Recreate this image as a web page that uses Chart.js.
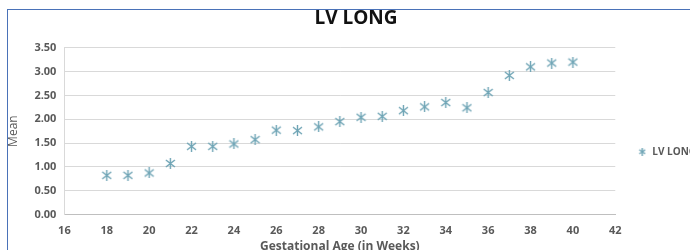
<!DOCTYPE html>
<html>
<head>
<meta charset="utf-8">
<script src="https://cdn.jsdelivr.net/npm/chart.js@4"></script>
<style>
  html, body { margin: 0; padding: 0; background: #fff; overflow: hidden; }
  #wrap { position: absolute; left: 0; top: 0; width: 706px; height: 250px; }
  #frame { position: absolute; left: 7px; top: 9px; width: 700px; height: 260px;
           border-left: 1px solid #4a72b8; border-top: 1px solid #4a72b8; pointer-events: none; }
</style>
</head>
<body>
<div id="wrap"><canvas id="chart" width="706" height="250"></canvas></div>
<div id="frame"></div>
<script>
var weeks = [18, 19, 20, 21, 22, 23, 24, 25, 26, 27, 28, 29, 30, 31, 32, 33, 34, 35, 36, 37, 38, 39, 40];
var lvLong = [0.82, 0.82, 0.87, 1.07, 1.43, 1.43, 1.48, 1.57, 1.77, 1.76, 1.84, 1.95, 2.04, 2.06, 2.18, 2.26, 2.35, 2.24, 2.56, 2.92, 3.10, 3.18, 3.20];
var seriesName = 'LV LONG';
var markerColor = '#6ea4b5';

// asterisk marker like excel's "star"
function makeStar(size) {
    var c = document.createElement('canvas');
    c.width = size; c.height = size;
    var g = c.getContext('2d');
    g.strokeStyle = markerColor;
    g.lineWidth = 1.4;
    var m = 1, s = size - 1;
    g.beginPath();
    g.moveTo(m, m + 1); g.lineTo(s, s - 1);
    g.moveTo(s, m + 1); g.lineTo(m, s - 1);
    g.moveTo(size / 2, 0); g.lineTo(size / 2, size);
    g.stroke();
    return c;
}
var star = makeStar(11);
var starSmall = makeStar(8);

var points = weeks.map(function (w, i) { return { x: w, y: lvLong[i] }; });

var ctx = document.getElementById('chart').getContext('2d');
new Chart(ctx, {
    type: 'scatter',
    data: {
        datasets: [{
            label: seriesName,
            data: points,
            pointStyle: star,
            borderColor: markerColor,
            backgroundColor: markerColor
        }]
    },
    options: {
        responsive: false,
        animation: false,
        layout: { padding: { left: 6, top: 7, right: 0, bottom: -4 } },
        plugins: {
            title: {
                display: true,
                text: 'LV LONG',
                color: '#111',
                font: { family: 'Open Sans', size: 19, weight: 'bold' },
                padding: { top: 0, bottom: 18 }
            },
            legend: {
                position: 'right',
                title: { display: true, text: ' ', padding: 14, font: { size: 12 } },
                labels: {
                    usePointStyle: true,
                    pointStyle: starSmall,
                    color: '#595959',
                    font: { family: 'Open Sans', size: 10, weight: 'bold' },
                    padding: 6,
                    generateLabels: function (chart) {
                        return [{ text: seriesName, pointStyle: starSmall, fontColor: '#595959',
                                  strokeStyle: markerColor, fillStyle: markerColor, datasetIndex: 0 }];
                    }
                }
            },
            tooltip: { enabled: false }
        },
        scales: {
            x: {
                type: 'linear',
                min: 16,
                max: 42,
                ticks: { stepSize: 2, color: '#595959', font: { family: 'Open Sans', size: 11, weight: 'bold' }, padding: 10 },
                grid: { display: false, drawTicks: false },
                border: { color: '#bfbfbf' },
                title: {
                    display: true,
                    text: 'Gestational Age (in Weeks)',
                    color: '#595959',
                    font: { family: 'Open Sans', size: 12, weight: 'bold' },
                    padding: { top: -8, bottom: 0 }
                }
            },
            y: {
                min: 0,
                max: 3.5,
                ticks: {
                    stepSize: 0.5,
                    color: '#595959',
                    font: { family: 'Open Sans', size: 11, weight: 'bold' },
                    padding: 8,
                    callback: function (v) { return v.toFixed(2); }
                },
                grid: { color: '#d9d9d9', drawTicks: false },
                border: { color: '#d9d9d9' },
                title: {
                    display: true,
                    text: 'Mean',
                    color: '#595959',
                    font: { family: 'Open Sans', size: 12 },
                    padding: { top: 0, bottom: 6 }
                }
            },
            // empty right axis, only keeps a gap between plot and legend
            yGap: {
                position: 'right',
                display: true,
                ticks: { display: false },
                grid: { display: false, drawTicks: false },
                border: { display: false },
                afterFit: function (scale) { scale.width = 16; }
            }
        }
    }
});
</script>
</body>
</html>
